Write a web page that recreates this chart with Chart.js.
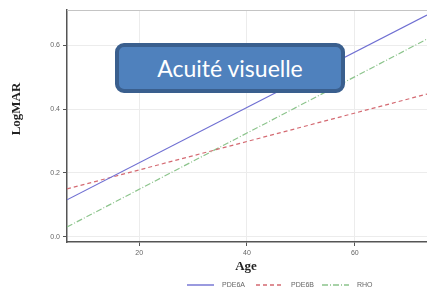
<!DOCTYPE html>
<html>
<head>
<meta charset="utf-8">
<script src="https://cdn.jsdelivr.net/npm/chart.js@4.4.0/dist/chart.umd.min.js"></script>
<style>
  html, body { margin: 0; padding: 0; background: #fff; }
  #wrap { position: relative; width: 427px; height: 290px; }
  #badge {
    position: absolute; left: 115px; top: 43px; width: 222px; height: 42px;
    background: #4f81bd; border: 4px solid #3a5f8e; border-radius: 9px;
    color: #fff; font-family: Lato, "Open Sans", sans-serif;
    font-size: 23px; line-height: 42px; text-align: center;
  }
</style>
</head>
<body>
<div id="wrap">
  <canvas id="myChart" width="427" height="290"></canvas>
  <div id="badge">Acuité visuelle</div>
</div>
<script>
// fitted lines, read at the two ends of the age range
const ages = [6.6, 73.4];
const pde6a = [0.116, 0.694];
const pde6b = [0.150, 0.447];
const rho = [0.031, 0.619];
const seriesNames = ['PDE6A', 'PDE6B', 'RHO'];
const yTicks = [0, 0.2, 0.4, 0.6];
const xTicks = [20, 40, 60];

function pts(vals) {
  return vals.map(function(v, i) { return { x: ages[i], y: v }; });
}

const extras = {
  id: 'extras',
  beforeDatasetsDraw(chart) {
    const ctx = chart.ctx, a = chart.chartArea;
    ctx.save();
    ctx.strokeStyle = '#c4c4c4';
    ctx.lineWidth = 1;
    ctx.beginPath();
    ctx.moveTo(a.left, a.top + 0.5);
    ctx.lineTo(a.right, a.top + 0.5);
    ctx.stroke();
    ctx.restore();
  },
  afterDraw(chart) {
    const ctx = chart.ctx;
    ctx.save();
    // axis titles
    ctx.fillStyle = '#222';
    ctx.font = 'bold 13px "Liberation Serif", "DejaVu Serif", serif';
    ctx.textAlign = 'center';
    ctx.textBaseline = 'middle';
    ctx.fillText('Age', 246, 267);
    ctx.translate(17, 109);
    ctx.rotate(-Math.PI / 2);
    ctx.fillText('LogMAR', 0, 0);
    ctx.restore();

    // legend
    ctx.save();
    ctx.font = '7px "Liberation Sans", sans-serif';
    ctx.textBaseline = 'middle';
    ctx.textAlign = 'left';
    const starts = [187, 256, 322];
    chart.data.datasets.forEach(function(ds, i) {
      const x = starts[i], y = 285;
      ctx.strokeStyle = ds.borderColor;
      ctx.lineWidth = 1.4;
      ctx.setLineDash(ds.borderDash || []);
      ctx.beginPath();
      ctx.moveTo(x, y);
      ctx.lineTo(x + 27, y);
      ctx.stroke();
      ctx.setLineDash([]);
      ctx.fillStyle = '#666';
      ctx.fillText(ds.label, x + 35, y);
    });
    ctx.restore();
  }
};

const data = {
  datasets: [{
    label: seriesNames[0],
    data: pts(pde6a),
    borderColor: '#6f6fd2',
    borderWidth: 1.2,
    pointRadius: 0,
    fill: false
  }, {
    label: seriesNames[1],
    data: pts(pde6b),
    borderColor: '#d46a72',
    borderWidth: 1.2,
    borderDash: [4, 3],
    pointRadius: 0,
    fill: false
  }, {
    label: seriesNames[2],
    data: pts(rho),
    borderColor: '#8cc48c',
    borderWidth: 1.2,
    borderDash: [6, 2, 1, 2],
    pointRadius: 0,
    fill: false
  }]
};

const config = {
  type: 'line',
  data: data,
  options: {
    responsive: false,
    animation: false,
    layout: { padding: { top: 10, right: 0, left: 0, bottom: 0 } },
    plugins: { legend: { display: false }, tooltip: { enabled: false } },
    scales: {
      x: {
        type: 'linear',
        min: ages[0],
        max: ages[1],
        afterBuildTicks: function(s) { s.ticks = xTicks.map(function(v) { return { value: v }; }); },
        afterFit: function(s) { s.height = 48; },
        grid: { color: '#ececec', tickLength: 4, tickColor: '#555' },
        border: { color: '#555', width: 1.5 },
        ticks: { color: '#666', font: { size: 7 }, padding: 3, maxRotation: 0 }
      },
      y: {
        min: -0.016,
        max: 0.71,
        afterBuildTicks: function(s) { s.ticks = yTicks.map(function(v) { return { value: v }; }); },
        afterFit: function(s) { s.width = 67; },
        grid: { color: '#ececec', tickLength: 4, tickColor: '#555' },
        border: { color: '#555', width: 1.5 },
        ticks: { color: '#666', font: { size: 7 }, padding: 3,
          callback: function(v) { return v.toFixed(1); } }
      }
    }
  },
  plugins: [extras]
};

var myChart = new Chart(document.getElementById('myChart'), config);
</script>
</body>
</html>
